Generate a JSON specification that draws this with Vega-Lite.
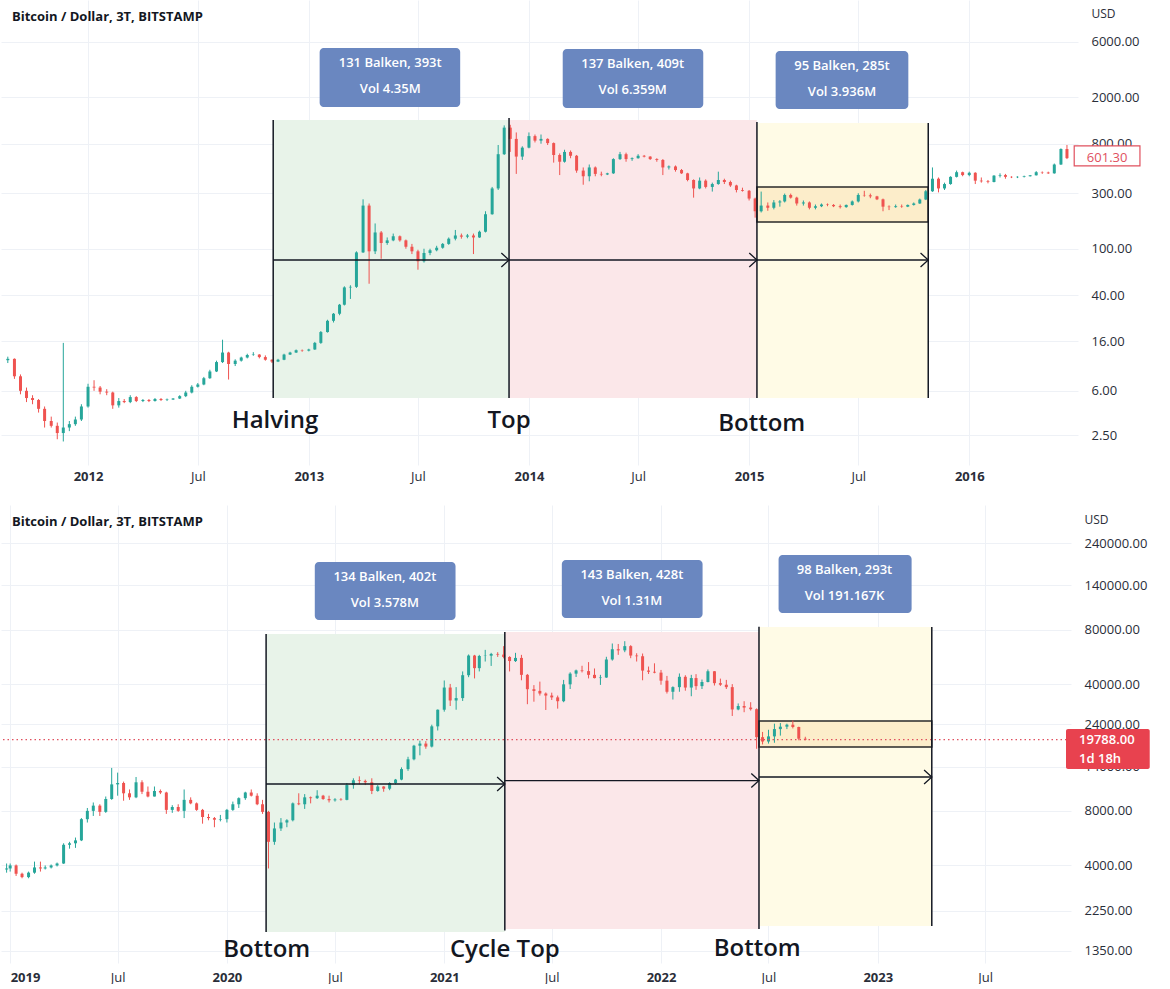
{
  "$schema": "https://vega.github.io/schema/vega-lite/v6.json",
  "background": "white",
  "padding": 0,
  "spacing": 22,
  "config": {
    "view": {"stroke": null},
    "font": "Open Sans",
    "axis": {"labelFont": "Open Sans", "labelFontSize": 13, "labelColor": "#2a2e39", "gridColor": "#eef1f6", "domain": false, "ticks": false},
    "title": {"font": "Open Sans", "fontSize": 13, "fontWeight": "bold", "color": "#131722", "anchor": "start", "frame": "group", "offset": -24, "dx": 11}
  },
  "resolve": {"scale": {"x": "independent", "y": "independent"}},
  "datasets": {
    "top": [
      {"t":"2011-08-21","o":11.0,"h":11.8,"l":10.4,"c":11.3},
      {"t":"2011-09-01","o":11.3,"h":11.4,"l":7.6,"c":8.0},
      {"t":"2011-09-11","o":8.0,"h":8.3,"l":5.6,"c":6.0},
      {"t":"2011-09-21","o":6.0,"h":6.4,"l":4.8,"c":5.2},
      {"t":"2011-10-01","o":5.2,"h":5.5,"l":4.6,"c":5.0},
      {"t":"2011-10-11","o":5.0,"h":5.1,"l":3.9,"c":4.2},
      {"t":"2011-10-21","o":4.2,"h":4.4,"l":2.9,"c":3.3},
      {"t":"2011-11-01","o":3.3,"h":3.6,"l":2.9,"c":3.0},
      {"t":"2011-11-11","o":3.0,"h":3.2,"l":2.3,"c":2.6},
      {"t":"2011-11-21","o":2.6,"h":15.5,"l":2.2,"c":2.9},
      {"t":"2011-12-01","o":2.9,"h":3.3,"l":2.7,"c":3.1},
      {"t":"2011-12-11","o":3.1,"h":3.6,"l":3.0,"c":3.4},
      {"t":"2011-12-21","o":3.4,"h":4.6,"l":3.3,"c":4.4},
      {"t":"2012-01-01","o":4.4,"h":6.9,"l":4.3,"c":6.5},
      {"t":"2012-01-11","o":6.5,"h":7.4,"l":6.0,"c":6.4},
      {"t":"2012-01-21","o":6.4,"h":6.6,"l":5.6,"c":5.9},
      {"t":"2012-02-01","o":5.9,"h":6.2,"l":5.5,"c":5.8},
      {"t":"2012-02-11","o":5.8,"h":5.9,"l":4.2,"c":4.5},
      {"t":"2012-02-21","o":4.5,"h":5.2,"l":4.3,"c":4.9},
      {"t":"2012-03-01","o":4.9,"h":5.1,"l":4.7,"c":4.8},
      {"t":"2012-03-11","o":4.8,"h":5.5,"l":4.7,"c":5.3},
      {"t":"2012-03-21","o":5.3,"h":5.4,"l":4.8,"c":4.9},
      {"t":"2012-04-01","o":4.9,"h":5.1,"l":4.8,"c":5.0},
      {"t":"2012-04-11","o":5.0,"h":5.1,"l":4.8,"c":4.9},
      {"t":"2012-04-21","o":4.9,"h":5.2,"l":4.85,"c":5.1},
      {"t":"2012-05-01","o":5.1,"h":5.2,"l":4.9,"c":5.0},
      {"t":"2012-05-11","o":5.0,"h":5.15,"l":4.9,"c":5.05},
      {"t":"2012-05-21","o":5.05,"h":5.2,"l":5.0,"c":5.15},
      {"t":"2012-06-01","o":5.15,"h":5.5,"l":5.1,"c":5.4},
      {"t":"2012-06-11","o":5.4,"h":6.0,"l":5.3,"c":5.8},
      {"t":"2012-06-21","o":5.8,"h":6.7,"l":5.7,"c":6.5},
      {"t":"2012-07-01","o":6.5,"h":7.0,"l":6.4,"c":6.8},
      {"t":"2012-07-11","o":6.8,"h":7.9,"l":6.7,"c":7.7},
      {"t":"2012-07-21","o":7.7,"h":9.1,"l":7.6,"c":8.8},
      {"t":"2012-08-01","o":8.8,"h":10.9,"l":8.7,"c":10.6},
      {"t":"2012-08-11","o":10.6,"h":16.5,"l":10.4,"c":12.8},
      {"t":"2012-08-21","o":12.8,"h":13.0,"l":7.5,"c":10.2},
      {"t":"2012-09-01","o":10.2,"h":11.2,"l":9.8,"c":10.9},
      {"t":"2012-09-11","o":10.9,"h":11.8,"l":10.7,"c":11.6},
      {"t":"2012-09-21","o":11.6,"h":12.5,"l":11.4,"c":12.2},
      {"t":"2012-10-01","o":12.2,"h":12.9,"l":12.0,"c":12.3},
      {"t":"2012-10-11","o":12.3,"h":12.4,"l":11.4,"c":11.7},
      {"t":"2012-10-21","o":11.7,"h":12.1,"l":10.9,"c":11.1},
      {"t":"2012-11-01","o":11.1,"h":11.2,"l":10.4,"c":10.7},
      {"t":"2012-11-11","o":10.7,"h":11.3,"l":10.6,"c":11.1},
      {"t":"2012-11-21","o":11.1,"h":12.5,"l":11.0,"c":12.3},
      {"t":"2012-12-01","o":12.3,"h":13.0,"l":12.2,"c":12.8},
      {"t":"2012-12-11","o":12.8,"h":13.6,"l":12.7,"c":13.4},
      {"t":"2012-12-21","o":13.4,"h":13.6,"l":13.0,"c":13.3},
      {"t":"2013-01-01","o":13.3,"h":13.8,"l":13.1,"c":13.6},
      {"t":"2013-01-11","o":13.6,"h":15.8,"l":13.5,"c":15.5},
      {"t":"2013-01-21","o":15.5,"h":19.6,"l":15.2,"c":19.2},
      {"t":"2013-02-01","o":19.2,"h":24.5,"l":19.0,"c":24.0},
      {"t":"2013-02-11","o":24.0,"h":28.0,"l":23.2,"c":27.6},
      {"t":"2013-02-21","o":27.6,"h":33.5,"l":26.8,"c":33.0},
      {"t":"2013-03-01","o":33.0,"h":47.5,"l":32.5,"c":46.5},
      {"t":"2013-03-11","o":46.5,"h":48.5,"l":37.0,"c":47.0},
      {"t":"2013-03-21","o":47.0,"h":95,"l":46.0,"c":93},
      {"t":"2013-04-01","o":93,"h":266,"l":92,"c":235},
      {"t":"2013-04-11","o":235,"h":245,"l":50,"c":95},
      {"t":"2013-04-21","o":95,"h":165,"l":90,"c":138},
      {"t":"2013-05-01","o":138,"h":142,"l":82,"c":112},
      {"t":"2013-05-11","o":112,"h":125,"l":108,"c":118},
      {"t":"2013-05-21","o":118,"h":135,"l":116,"c":128},
      {"t":"2013-06-01","o":128,"h":130,"l":115,"c":118},
      {"t":"2013-06-11","o":118,"h":120,"l":100,"c":104},
      {"t":"2013-06-21","o":104,"h":110,"l":90,"c":95},
      {"t":"2013-07-01","o":95,"h":98,"l":66,"c":78},
      {"t":"2013-07-11","o":78,"h":100,"l":76,"c":92},
      {"t":"2013-07-21","o":92,"h":100,"l":88,"c":97},
      {"t":"2013-08-01","o":97,"h":106,"l":95,"c":102},
      {"t":"2013-08-11","o":102,"h":112,"l":100,"c":110},
      {"t":"2013-08-21","o":110,"h":125,"l":108,"c":122},
      {"t":"2013-09-01","o":122,"h":145,"l":118,"c":130},
      {"t":"2013-09-11","o":130,"h":135,"l":122,"c":127},
      {"t":"2013-09-21","o":127,"h":134,"l":123,"c":130},
      {"t":"2013-10-01","o":130,"h":135,"l":90,"c":125},
      {"t":"2013-10-11","o":125,"h":143,"l":124,"c":140},
      {"t":"2013-10-21","o":140,"h":210,"l":138,"c":198},
      {"t":"2013-11-01","o":198,"h":340,"l":196,"c":330},
      {"t":"2013-11-11","o":330,"h":780,"l":320,"c":650},
      {"t":"2013-11-21","o":650,"h":1150,"l":640,"c":1100},
      {"t":"2013-12-01","o":1100,"h":1163,"l":680,"c":880},
      {"t":"2013-12-11","o":880,"h":1000,"l":440,"c":620},
      {"t":"2013-12-21","o":620,"h":760,"l":580,"c":740},
      {"t":"2014-01-01","o":740,"h":1000,"l":730,"c":930},
      {"t":"2014-01-11","o":930,"h":960,"l":820,"c":850},
      {"t":"2014-01-21","o":850,"h":960,"l":800,"c":880},
      {"t":"2014-02-01","o":880,"h":890,"l":780,"c":810},
      {"t":"2014-02-11","o":810,"h":820,"l":550,"c":640},
      {"t":"2014-02-21","o":640,"h":660,"l":430,"c":560},
      {"t":"2014-03-01","o":560,"h":710,"l":550,"c":680},
      {"t":"2014-03-11","o":680,"h":700,"l":600,"c":630},
      {"t":"2014-03-21","o":630,"h":640,"l":450,"c":470},
      {"t":"2014-04-01","o":470,"h":500,"l":355,"c":420},
      {"t":"2014-04-11","o":420,"h":530,"l":380,"c":500},
      {"t":"2014-04-21","o":500,"h":510,"l":420,"c":440},
      {"t":"2014-05-01","o":440,"h":460,"l":420,"c":435},
      {"t":"2014-05-11","o":435,"h":450,"l":430,"c":445},
      {"t":"2014-05-21","o":445,"h":600,"l":440,"c":590},
      {"t":"2014-06-01","o":590,"h":680,"l":580,"c":650},
      {"t":"2014-06-11","o":650,"h":670,"l":560,"c":590},
      {"t":"2014-06-21","o":590,"h":610,"l":570,"c":600},
      {"t":"2014-07-01","o":600,"h":650,"l":595,"c":630},
      {"t":"2014-07-11","o":630,"h":640,"l":610,"c":620},
      {"t":"2014-07-21","o":620,"h":625,"l":580,"c":590},
      {"t":"2014-08-01","o":590,"h":600,"l":560,"c":580},
      {"t":"2014-08-11","o":580,"h":590,"l":430,"c":500},
      {"t":"2014-08-21","o":500,"h":520,"l":480,"c":510},
      {"t":"2014-09-01","o":510,"h":520,"l":460,"c":475},
      {"t":"2014-09-11","o":475,"h":485,"l":440,"c":445},
      {"t":"2014-09-21","o":445,"h":450,"l":380,"c":390},
      {"t":"2014-10-01","o":390,"h":395,"l":275,"c":330},
      {"t":"2014-10-11","o":330,"h":410,"l":325,"c":385},
      {"t":"2014-10-21","o":385,"h":395,"l":330,"c":340},
      {"t":"2014-11-01","o":340,"h":370,"l":310,"c":360},
      {"t":"2014-11-11","o":360,"h":460,"l":355,"c":390},
      {"t":"2014-11-21","o":390,"h":400,"l":360,"c":375},
      {"t":"2014-12-01","o":375,"h":385,"l":340,"c":350},
      {"t":"2014-12-11","o":350,"h":355,"l":305,"c":320},
      {"t":"2014-12-21","o":320,"h":335,"l":310,"c":315},
      {"t":"2015-01-01","o":315,"h":320,"l":260,"c":270},
      {"t":"2015-01-11","o":270,"h":275,"l":185,"c":210},
      {"t":"2015-01-21","o":210,"h":310,"l":205,"c":235},
      {"t":"2015-02-01","o":235,"h":250,"l":212,"c":225},
      {"t":"2015-02-11","o":225,"h":262,"l":218,"c":250},
      {"t":"2015-02-21","o":250,"h":262,"l":230,"c":255},
      {"t":"2015-03-01","o":255,"h":298,"l":250,"c":290},
      {"t":"2015-03-11","o":290,"h":298,"l":270,"c":275},
      {"t":"2015-03-21","o":275,"h":280,"l":235,"c":245},
      {"t":"2015-04-01","o":245,"h":260,"l":235,"c":250},
      {"t":"2015-04-11","o":250,"h":255,"l":218,"c":225},
      {"t":"2015-04-21","o":225,"h":240,"l":218,"c":232},
      {"t":"2015-05-01","o":232,"h":245,"l":228,"c":240},
      {"t":"2015-05-11","o":240,"h":245,"l":232,"c":238},
      {"t":"2015-05-21","o":238,"h":242,"l":228,"c":232},
      {"t":"2015-06-01","o":232,"h":240,"l":222,"c":228},
      {"t":"2015-06-11","o":228,"h":240,"l":225,"c":238},
      {"t":"2015-06-21","o":238,"h":260,"l":235,"c":255},
      {"t":"2015-07-01","o":255,"h":300,"l":250,"c":290},
      {"t":"2015-07-11","o":290,"h":315,"l":280,"c":288},
      {"t":"2015-07-21","o":288,"h":298,"l":272,"c":282},
      {"t":"2015-08-01","o":282,"h":285,"l":262,"c":266},
      {"t":"2015-08-11","o":266,"h":270,"l":210,"c":230},
      {"t":"2015-08-21","o":230,"h":236,"l":215,"c":228},
      {"t":"2015-09-01","o":228,"h":240,"l":225,"c":232},
      {"t":"2015-09-11","o":232,"h":240,"l":225,"c":230},
      {"t":"2015-09-21","o":230,"h":240,"l":228,"c":238},
      {"t":"2015-10-01","o":238,"h":250,"l":235,"c":245},
      {"t":"2015-10-11","o":245,"h":270,"l":243,"c":265},
      {"t":"2015-10-21","o":265,"h":320,"l":262,"c":312},
      {"t":"2015-11-01","o":312,"h":500,"l":308,"c":400},
      {"t":"2015-11-11","o":400,"h":410,"l":305,"c":330},
      {"t":"2015-11-21","o":330,"h":370,"l":320,"c":360},
      {"t":"2015-12-01","o":360,"h":420,"l":355,"c":415},
      {"t":"2015-12-11","o":415,"h":470,"l":410,"c":455},
      {"t":"2015-12-21","o":455,"h":460,"l":420,"c":430},
      {"t":"2016-01-01","o":430,"h":460,"l":420,"c":450},
      {"t":"2016-01-11","o":450,"h":455,"l":360,"c":385},
      {"t":"2016-01-21","o":385,"h":410,"l":370,"c":380},
      {"t":"2016-02-01","o":380,"h":390,"l":365,"c":375},
      {"t":"2016-02-11","o":375,"h":430,"l":372,"c":425},
      {"t":"2016-02-21","o":425,"h":445,"l":410,"c":430},
      {"t":"2016-03-01","o":430,"h":440,"l":400,"c":415},
      {"t":"2016-03-11","o":415,"h":420,"l":405,"c":412},
      {"t":"2016-03-21","o":412,"h":420,"l":405,"c":415},
      {"t":"2016-04-01","o":415,"h":425,"l":410,"c":420},
      {"t":"2016-04-11","o":420,"h":430,"l":418,"c":428},
      {"t":"2016-04-21","o":428,"h":465,"l":426,"c":455},
      {"t":"2016-05-01","o":455,"h":462,"l":440,"c":452},
      {"t":"2016-05-11","o":452,"h":460,"l":440,"c":445},
      {"t":"2016-05-21","o":445,"h":540,"l":442,"c":530},
      {"t":"2016-06-01","o":530,"h":730,"l":525,"c":720},
      {"t":"2016-06-11","o":720,"h":780,"l":590,"c":601.3}
    ],
    "bot": [
      {"t":"2018-12-26","o":3800,"h":4100,"l":3650,"c":3850},
      {"t":"2019-01-01","o":3850,"h":4100,"l":3700,"c":4000},
      {"t":"2019-01-11","o":4000,"h":4050,"l":3500,"c":3600},
      {"t":"2019-01-21","o":3600,"h":3650,"l":3400,"c":3450},
      {"t":"2019-02-01","o":3450,"h":3700,"l":3400,"c":3650},
      {"t":"2019-02-11","o":3650,"h":4200,"l":3600,"c":3900},
      {"t":"2019-02-21","o":3900,"h":4200,"l":3700,"c":3850},
      {"t":"2019-03-01","o":3850,"h":4000,"l":3800,"c":3900},
      {"t":"2019-03-11","o":3900,"h":4050,"l":3850,"c":4000},
      {"t":"2019-03-21","o":4000,"h":4150,"l":3950,"c":4100},
      {"t":"2019-04-01","o":4100,"h":5300,"l":4080,"c":5200},
      {"t":"2019-04-11","o":5200,"h":5400,"l":4950,"c":5300},
      {"t":"2019-04-21","o":5300,"h":5700,"l":5000,"c":5500},
      {"t":"2019-05-01","o":5500,"h":7300,"l":5450,"c":7200},
      {"t":"2019-05-11","o":7200,"h":8300,"l":6900,"c":8000},
      {"t":"2019-05-21","o":8000,"h":8900,"l":7500,"c":8550},
      {"t":"2019-06-01","o":8550,"h":8700,"l":7500,"c":7900},
      {"t":"2019-06-11","o":7900,"h":9600,"l":7800,"c":9300},
      {"t":"2019-06-21","o":9300,"h":13800,"l":9200,"c":11200},
      {"t":"2019-07-01","o":11200,"h":13000,"l":9700,"c":11400},
      {"t":"2019-07-11","o":11400,"h":11600,"l":9100,"c":10000},
      {"t":"2019-07-21","o":10000,"h":10500,"l":9200,"c":9500},
      {"t":"2019-08-01","o":9500,"h":12300,"l":9400,"c":11500},
      {"t":"2019-08-11","o":11500,"h":11800,"l":9900,"c":10200},
      {"t":"2019-08-21","o":10200,"h":10900,"l":9500,"c":9600},
      {"t":"2019-09-01","o":9600,"h":10900,"l":9600,"c":10300},
      {"t":"2019-09-11","o":10300,"h":10500,"l":9900,"c":10100},
      {"t":"2019-09-21","o":10100,"h":10200,"l":7700,"c":8100},
      {"t":"2019-10-01","o":8100,"h":8600,"l":7800,"c":8400},
      {"t":"2019-10-11","o":8400,"h":8700,"l":7900,"c":8000},
      {"t":"2019-10-21","o":8000,"h":10500,"l":7300,"c":9200},
      {"t":"2019-11-01","o":9200,"h":9500,"l":8700,"c":8800},
      {"t":"2019-11-11","o":8800,"h":8900,"l":8000,"c":8100},
      {"t":"2019-11-21","o":8100,"h":8200,"l":6800,"c":7400},
      {"t":"2019-12-01","o":7400,"h":7700,"l":7100,"c":7300},
      {"t":"2019-12-11","o":7300,"h":7400,"l":6500,"c":7150},
      {"t":"2019-12-21","o":7150,"h":7600,"l":7000,"c":7200},
      {"t":"2020-01-01","o":7200,"h":8200,"l":6900,"c":8100},
      {"t":"2020-01-11","o":8100,"h":9000,"l":8000,"c":8700},
      {"t":"2020-01-21","o":8700,"h":9500,"l":8300,"c":9400},
      {"t":"2020-02-01","o":9400,"h":10200,"l":9200,"c":10100},
      {"t":"2020-02-11","o":10100,"h":10500,"l":9600,"c":9700},
      {"t":"2020-02-21","o":9700,"h":10000,"l":8600,"c":8700},
      {"t":"2020-03-01","o":8700,"h":9200,"l":7700,"c":7900},
      {"t":"2020-03-11","o":7900,"h":8000,"l":3850,"c":5400},
      {"t":"2020-03-21","o":5400,"h":6900,"l":5200,"c":6400},
      {"t":"2020-04-01","o":6400,"h":7300,"l":6200,"c":6900},
      {"t":"2020-04-11","o":6900,"h":7200,"l":6500,"c":7100},
      {"t":"2020-04-21","o":7100,"h":8900,"l":7000,"c":8800},
      {"t":"2020-05-01","o":8800,"h":10000,"l":8600,"c":8700},
      {"t":"2020-05-11","o":8700,"h":9900,"l":8200,"c":9500},
      {"t":"2020-05-21","o":9500,"h":9600,"l":8800,"c":9400},
      {"t":"2020-06-01","o":9400,"h":10400,"l":9300,"c":9700},
      {"t":"2020-06-11","o":9700,"h":9800,"l":9200,"c":9300},
      {"t":"2020-06-21","o":9300,"h":9700,"l":8900,"c":9150},
      {"t":"2020-07-01","o":9150,"h":9400,"l":9000,"c":9250},
      {"t":"2020-07-11","o":9250,"h":9400,"l":9100,"c":9200},
      {"t":"2020-07-21","o":9200,"h":11400,"l":9150,"c":11100},
      {"t":"2020-08-01","o":11100,"h":12100,"l":10600,"c":11800},
      {"t":"2020-08-11","o":11800,"h":12400,"l":11200,"c":11700},
      {"t":"2020-08-21","o":11700,"h":11900,"l":11100,"c":11500},
      {"t":"2020-09-01","o":11500,"h":12100,"l":9900,"c":10300},
      {"t":"2020-09-11","o":10300,"h":11100,"l":10200,"c":10900},
      {"t":"2020-09-21","o":10900,"h":10950,"l":10200,"c":10600},
      {"t":"2020-10-01","o":10600,"h":11500,"l":10400,"c":11400},
      {"t":"2020-10-11","o":11400,"h":12000,"l":11200,"c":11900},
      {"t":"2020-10-21","o":11900,"h":13900,"l":11800,"c":13600},
      {"t":"2020-11-01","o":13600,"h":15900,"l":13300,"c":15400},
      {"t":"2020-11-11","o":15400,"h":18500,"l":15200,"c":18300},
      {"t":"2020-11-21","o":18300,"h":19500,"l":16200,"c":18800},
      {"t":"2020-12-01","o":18800,"h":19400,"l":17600,"c":18100},
      {"t":"2020-12-11","o":18100,"h":23900,"l":17900,"c":23400},
      {"t":"2020-12-21","o":23400,"h":29000,"l":22200,"c":28900},
      {"t":"2021-01-01","o":28900,"h":41900,"l":28200,"c":38300},
      {"t":"2021-01-11","o":38300,"h":40100,"l":30300,"c":32500},
      {"t":"2021-01-21","o":32500,"h":38500,"l":28900,"c":33500},
      {"t":"2021-02-01","o":33500,"h":47000,"l":32300,"c":44800},
      {"t":"2021-02-11","o":44800,"h":58300,"l":43700,"c":57500},
      {"t":"2021-02-21","o":57500,"h":58000,"l":43000,"c":49000},
      {"t":"2021-03-01","o":49000,"h":58000,"l":47000,"c":57200},
      {"t":"2021-03-11","o":57200,"h":61800,"l":53300,"c":57400},
      {"t":"2021-03-21","o":57400,"h":59500,"l":50400,"c":58700},
      {"t":"2021-04-01","o":58700,"h":60000,"l":56500,"c":58200},
      {"t":"2021-04-11","o":58200,"h":64800,"l":55500,"c":56500},
      {"t":"2021-04-21","o":56500,"h":57000,"l":47000,"c":53600},
      {"t":"2021-05-01","o":53600,"h":59500,"l":53000,"c":55800},
      {"t":"2021-05-11","o":55800,"h":58000,"l":42000,"c":45000},
      {"t":"2021-05-21","o":45000,"h":45500,"l":31000,"c":37500},
      {"t":"2021-06-01","o":37500,"h":39500,"l":32000,"c":36700},
      {"t":"2021-06-11","o":36700,"h":41300,"l":34600,"c":35500},
      {"t":"2021-06-21","o":35500,"h":36000,"l":28800,"c":34600},
      {"t":"2021-07-01","o":34600,"h":35900,"l":32700,"c":33800},
      {"t":"2021-07-11","o":33800,"h":34600,"l":29300,"c":32200},
      {"t":"2021-07-21","o":32200,"h":42200,"l":31800,"c":39900},
      {"t":"2021-08-01","o":39900,"h":46500,"l":37600,"c":45700},
      {"t":"2021-08-11","o":45700,"h":48100,"l":43800,"c":47600},
      {"t":"2021-08-21","o":47600,"h":50500,"l":46400,"c":47200},
      {"t":"2021-09-01","o":47200,"h":52900,"l":43000,"c":45000},
      {"t":"2021-09-11","o":45000,"h":48800,"l":43000,"c":43200},
      {"t":"2021-09-21","o":43200,"h":45000,"l":39600,"c":43500},
      {"t":"2021-10-01","o":43500,"h":56600,"l":43300,"c":54700},
      {"t":"2021-10-11","o":54700,"h":67000,"l":53900,"c":62300},
      {"t":"2021-10-21","o":62300,"h":66600,"l":58000,"c":61400},
      {"t":"2021-11-01","o":61400,"h":69000,"l":60000,"c":64800},
      {"t":"2021-11-11","o":64800,"h":65600,"l":55600,"c":57500},
      {"t":"2021-11-21","o":57500,"h":59200,"l":53300,"c":57000},
      {"t":"2021-12-01","o":57000,"h":59000,"l":42000,"c":47500},
      {"t":"2021-12-11","o":47500,"h":50000,"l":45500,"c":46800},
      {"t":"2021-12-21","o":46800,"h":52100,"l":45900,"c":46300},
      {"t":"2022-01-01","o":46300,"h":47900,"l":39700,"c":41800},
      {"t":"2022-01-11","o":41800,"h":44400,"l":35500,"c":36300},
      {"t":"2022-01-21","o":36300,"h":38900,"l":32900,"c":38500},
      {"t":"2022-02-01","o":38500,"h":45800,"l":36300,"c":43900},
      {"t":"2022-02-11","o":43900,"h":44800,"l":36800,"c":38300},
      {"t":"2022-02-21","o":38300,"h":45000,"l":34300,"c":43200},
      {"t":"2022-03-01","o":43200,"h":45400,"l":37200,"c":39000},
      {"t":"2022-03-11","o":39000,"h":42400,"l":37600,"c":41100},
      {"t":"2022-03-21","o":41100,"h":48200,"l":40900,"c":47100},
      {"t":"2022-04-01","o":47100,"h":47200,"l":39300,"c":40500},
      {"t":"2022-04-11","o":40500,"h":42900,"l":39100,"c":39700},
      {"t":"2022-04-21","o":39700,"h":42200,"l":37600,"c":38500},
      {"t":"2022-05-01","o":38500,"h":40000,"l":26700,"c":29000},
      {"t":"2022-05-11","o":29000,"h":31300,"l":28700,"c":30300},
      {"t":"2022-05-21","o":30300,"h":32200,"l":28000,"c":29700},
      {"t":"2022-06-01","o":29700,"h":31800,"l":28600,"c":29100},
      {"t":"2022-06-11","o":29100,"h":29400,"l":17600,"c":20400},
      {"t":"2022-06-21","o":20400,"h":21800,"l":18600,"c":19300},
      {"t":"2022-07-01","o":19300,"h":22400,"l":18800,"c":20600},
      {"t":"2022-07-11","o":20600,"h":24200,"l":19000,"c":22600},
      {"t":"2022-07-21","o":22600,"h":24400,"l":20800,"c":23300},
      {"t":"2022-08-01","o":23300,"h":24200,"l":22600,"c":23900},
      {"t":"2022-08-11","o":23900,"h":25200,"l":22800,"c":23200},
      {"t":"2022-08-21","o":23200,"h":23300,"l":19600,"c":20000},
      {"t":"2022-09-01","o":20000,"h":20500,"l":19600,"c":19788}
    ],
    "topZones": [
      {"t1":"2012-11-03","t2":"2013-11-29","p1":5.2,"p2":1280,"z":"up"},
      {"t1":"2013-11-29","t2":"2015-01-14","p1":5.2,"p2":1280,"z":"down"},
      {"t1":"2015-01-14","t2":"2015-10-25","p1":5.2,"p2":1207,"z":"flat"}
    ],
    "botZones": [
      {"t1":"2020-03-07","t2":"2021-04-13","p1":1716,"p2":75500,"z":"up"},
      {"t1":"2021-04-13","t2":"2022-06-15","p1":1783,"p2":77500,"z":"down"},
      {"t1":"2022-06-15","t2":"2023-04-02","p1":1852,"p2":82600,"z":"flat"}
    ],
    "topLines": [
      {"t":"2012-11-03","p1":5.2,"p2":1280},
      {"t":"2013-11-29","p1":5.2,"p2":1330},
      {"t":"2015-01-14","p1":5.2,"p2":1230},
      {"t":"2015-10-25","p1":5.2,"p2":1207}
    ],
    "botLines": [
      {"t":"2020-03-07","p1":1716,"p2":75500},
      {"t":"2021-04-13","p1":1750,"p2":77500},
      {"t":"2022-06-15","p1":1783,"p2":83000},
      {"t":"2023-04-02","p1":1852,"p2":82600}
    ],
    "topArrows": [
      {"t1":"2012-11-03","t2":"2013-11-29","p":80},
      {"t1":"2013-11-29","t2":"2015-01-14","p":80},
      {"t1":"2015-01-14","t2":"2015-10-25","p":80}
    ],
    "botArrows": [
      {"t1":"2020-03-07","t2":"2021-04-13","p":11250},
      {"t1":"2021-04-13","t2":"2022-06-15","p":11750},
      {"t1":"2022-06-15","t2":"2023-04-02","p":12300}
    ],
    "topBox": [{"t1":"2015-01-14","t2":"2015-10-25","p1":170,"p2":340}],
    "botBox": [{"t1":"2022-06-15","t2":"2023-04-02","p1":17980,"p2":25030}],
    "botNow": [{"p":19788}],
    "topInfo": [
      {"t1":"2013-01-19","t2":"2013-09-09","tm":"2013-05-16","p1":1657,"p2":5330,"ya":3960,"yb":2366,"a":"131 Balken, 393t","b":"Vol 4.35M"},
      {"t1":"2014-02-26","t2":"2014-10-17","tm":"2014-06-22","p1":1624,"p2":5220,"ya":3880,"yb":2319,"a":"137 Balken, 409t","b":"Vol 6.359M"},
      {"t1":"2015-02-14","t2":"2015-09-22","tm":"2015-06-04","p1":1591,"p2":5020,"ya":3731,"yb":2229,"a":"95 Balken, 285t","b":"Vol 3.936M"}
    ],
    "botInfo": [
      {"t1":"2020-05-28","t2":"2021-01-20","tm":"2020-09-23","p1":90250,"p2":188500,"ya":155800,"yb":112000,"a":"134 Balken, 402t","b":"Vol 3.578M"},
      {"t1":"2021-07-18","t2":"2022-03-12","tm":"2021-11-13","p1":92560,"p2":193400,"ya":159800,"yb":114900,"a":"143 Balken, 428t","b":"Vol 1.31M"},
      {"t1":"2022-07-18","t2":"2023-02-27","tm":"2022-11-06","p1":98700,"p2":206000,"ya":170300,"yb":122400,"a":"98 Balken, 293t","b":"Vol 191.167K"}
    ],
    "topLabels": [
      {"t":"2012-11-06","p":2.88,"label":"Halving"},
      {"t":"2013-11-29","p":2.88,"label":"Top"},
      {"t":"2015-01-22","p":2.71,"label":"Bottom"}
    ],
    "botLabels": [
      {"t":"2020-03-08","p":1250,"label":"Bottom"},
      {"t":"2021-04-13","p":1250,"label":"Cycle Top"},
      {"t":"2022-06-12","p":1265,"label":"Bottom"}
    ],
    "topPrice": [{"t1":"2016-06-23","t2":"2016-10-10","p1":515,"p2":765,"tx":"2016-07-14","p":601.3,"val":"601.30"}],
    "botPrice": [{"t1":"2023-11-14","t2":"2024-04-03","p1":13600,"p2":22590,"tx":"2023-12-06","p":19788,"val":"19788.00","q":15440,"sub":"1d 18h"}]
  },
  "vconcat": [
    {
      "title": "Bitcoin / Dollar, 3T, BITSTAMP",
      "width": 1077,
      "height": 465,
      "layer": [
        {
          "data": {"name": "topZones"},
          "mark": {"type": "rect"},
          "encoding": {
            "x": {
              "field": "t1", "type": "temporal",
              "scale": {"type": "utc", "nice": false, "domain": [{"year": 2011, "month": 8, "date": 18, "utc": true}, {"year": 2016, "month": 6, "date": 21, "utc": true}]},
              "axis": {
                "title": null, "labelPadding": 5, "labelFlush": false, "labelOverlap": false, "labelBound": false,
                "values": [
                  {"year": 2012, "month": 1, "date": 1, "utc": true}, {"year": 2012, "month": 7, "date": 1, "utc": true},
                  {"year": 2013, "month": 1, "date": 1, "utc": true}, {"year": 2013, "month": 7, "date": 1, "utc": true},
                  {"year": 2014, "month": 1, "date": 1, "utc": true}, {"year": 2014, "month": 7, "date": 1, "utc": true},
                  {"year": 2015, "month": 1, "date": 1, "utc": true}, {"year": 2015, "month": 7, "date": 1, "utc": true},
                  {"year": 2016, "month": 1, "date": 1, "utc": true}
                ],
                "labelExpr": "utcmonth(datum.value) == 0 ? utcFormat(datum.value, '%Y') : 'Jul'",
                "labelFontWeight": {"condition": {"test": "utcmonth(datum.value) == 0", "value": "bold"}, "value": "normal"}
              }
            },
            "x2": {"field": "t2"},
            "y": {
              "field": "p1", "type": "quantitative",
              "scale": {"type": "log", "domain": [1.381, 13770], "nice": false, "zero": false},
              "axis": {
                "orient": "right", "values": [2.5, 6, 16, 40, 100, 300, 800, 2000, 6000], "format": ".2f",
                "labelPadding": 13, "title": "USD", "titleAngle": 0, "titleAlign": "left", "titleBaseline": "middle",
                "titleX": 13, "titleY": 13, "titleFontSize": 12, "titleFontWeight": "normal", "titleColor": "#2a2e39", "titleFont": "Open Sans"
              }
            },
            "y2": {"field": "p2"},
            "color": {"field": "z", "type": "nominal", "scale": {"domain": ["up", "down", "flat"], "range": ["#e8f3e9", "#fbe7e9", "#fffbe6"]}, "legend": null}
          }
        },
        {
          "data": {"name": "topBox"},
          "mark": {"type": "rect", "fill": "#fcedca", "stroke": "#2a2a2a", "strokeWidth": 1.5},
          "encoding": {
            "x": {"field": "t1", "type": "temporal", "scale": {"type": "utc"}},
            "x2": {"field": "t2"},
            "y": {"field": "p1", "type": "quantitative", "scale": {"type": "log"}},
            "y2": {"field": "p2"}
          }
        },
        {
          "data": {"name": "top"},
          "mark": {"type": "rule", "clip": true, "strokeWidth": 1},
          "encoding": {
            "x": {"field": "t", "type": "temporal", "scale": {"type": "utc"}},
            "y": {"field": "l", "type": "quantitative", "scale": {"type": "log"}},
            "y2": {"field": "h"},
            "color": {"condition": {"test": "datum.c >= datum.o", "value": "#26a69a"}, "value": "#ef5350"}
          }
        },
        {
          "data": {"name": "top"},
          "mark": {"type": "bar", "clip": true, "size": 3},
          "encoding": {
            "x": {"field": "t", "type": "temporal", "scale": {"type": "utc"}},
            "y": {"field": "o", "type": "quantitative", "scale": {"type": "log"}},
            "y2": {"field": "c"},
            "color": {"condition": {"test": "datum.c >= datum.o", "value": "#26a69a"}, "value": "#ef5350"}
          }
        },
        {
          "data": {"name": "topLines"},
          "mark": {"type": "rule", "color": "#131722", "strokeWidth": 1.5},
          "encoding": {
            "x": {"field": "t", "type": "temporal", "scale": {"type": "utc"}},
            "y": {"field": "p1", "type": "quantitative", "scale": {"type": "log"}},
            "y2": {"field": "p2"}
          }
        },
        {
          "data": {"name": "topArrows"},
          "mark": {"type": "rule", "color": "#131722", "strokeWidth": 1.3},
          "encoding": {
            "x": {"field": "t1", "type": "temporal", "scale": {"type": "utc"}},
            "x2": {"field": "t2"},
            "y": {"field": "p", "type": "quantitative", "scale": {"type": "log"}}
          }
        },
        {
          "data": {"name": "topArrows"},
          "mark": {"type": "point", "shape": "M-1.1,-1L0,0L-1.1,1", "filled": false, "size": 196, "color": "#131722", "strokeWidth": 1.3, "opacity": 1},
          "encoding": {
            "x": {"field": "t2", "type": "temporal", "scale": {"type": "utc"}},
            "y": {"field": "p", "type": "quantitative", "scale": {"type": "log"}}
          }
        },
        {
          "data": {"name": "topInfo"},
          "mark": {"type": "rect", "fill": "#6a87c0", "cornerRadius": 4},
          "encoding": {
            "x": {"field": "t1", "type": "temporal", "scale": {"type": "utc"}},
            "x2": {"field": "t2"},
            "y": {"field": "p1", "type": "quantitative", "scale": {"type": "log"}},
            "y2": {"field": "p2"}
          }
        },
        {
          "data": {"name": "topInfo"},
          "mark": {"type": "text", "color": "white", "fontSize": 13, "fontWeight": 600, "align": "center", "baseline": "middle"},
          "encoding": {
            "x": {"field": "tm", "type": "temporal", "scale": {"type": "utc"}},
            "y": {"field": "ya", "type": "quantitative", "scale": {"type": "log"}},
            "text": {"field": "a"}
          }
        },
        {
          "data": {"name": "topInfo"},
          "mark": {"type": "text", "color": "white", "fontSize": 13, "fontWeight": 600, "align": "center", "baseline": "middle"},
          "encoding": {
            "x": {"field": "tm", "type": "temporal", "scale": {"type": "utc"}},
            "y": {"field": "yb", "type": "quantitative", "scale": {"type": "log"}},
            "text": {"field": "b"}
          }
        },
        {
          "data": {"name": "topLabels"},
          "mark": {"type": "text", "color": "#131722", "fontSize": 24, "fontWeight": 600, "align": "center", "baseline": "alphabetic"},
          "encoding": {
            "x": {"field": "t", "type": "temporal", "scale": {"type": "utc"}},
            "y": {"field": "p", "type": "quantitative", "scale": {"type": "log"}},
            "text": {"field": "label"}
          }
        },
        {
          "data": {"name": "topPrice"},
          "mark": {"type": "rect", "fill": "white", "stroke": "#e0505e", "strokeWidth": 1.2},
          "encoding": {
            "x": {"field": "t1", "type": "temporal", "scale": {"type": "utc"}},
            "x2": {"field": "t2"},
            "y": {"field": "p1", "type": "quantitative", "scale": {"type": "log"}},
            "y2": {"field": "p2"}
          }
        },
        {
          "data": {"name": "topPrice"},
          "mark": {"type": "text", "color": "#e0505e", "fontSize": 13, "align": "left", "baseline": "middle"},
          "encoding": {
            "x": {"field": "tx", "type": "temporal", "scale": {"type": "utc"}},
            "y": {"field": "p", "type": "quantitative", "scale": {"type": "log"}},
            "text": {"field": "val"}
          }
        }
      ]
    },
    {
      "title": "Bitcoin / Dollar, 3T, BITSTAMP",
      "width": 1070,
      "height": 458,
      "layer": [
        {
          "data": {"name": "botZones"},
          "mark": {"type": "rect"},
          "encoding": {
            "x": {
              "field": "t1", "type": "temporal",
              "scale": {"type": "utc", "nice": false, "domain": [{"year": 2018, "month": 12, "date": 25, "utc": true}, {"year": 2023, "month": 11, "date": 14, "utc": true}]},
              "axis": {
                "title": null, "labelPadding": 8, "labelFlush": 12, "labelOverlap": false, "labelBound": false,
                "values": [
                  {"year": 2019, "month": 1, "date": 1, "utc": true}, {"year": 2019, "month": 7, "date": 1, "utc": true},
                  {"year": 2020, "month": 1, "date": 1, "utc": true}, {"year": 2020, "month": 7, "date": 1, "utc": true},
                  {"year": 2021, "month": 1, "date": 1, "utc": true}, {"year": 2021, "month": 7, "date": 1, "utc": true},
                  {"year": 2022, "month": 1, "date": 1, "utc": true}, {"year": 2022, "month": 7, "date": 1, "utc": true},
                  {"year": 2023, "month": 1, "date": 1, "utc": true}, {"year": 2023, "month": 7, "date": 1, "utc": true}
                ],
                "labelExpr": "utcmonth(datum.value) == 0 ? utcFormat(datum.value, '%Y') : 'Jul'",
                "labelFontWeight": {"condition": {"test": "utcmonth(datum.value) == 0", "value": "bold"}, "value": "normal"}
              }
            },
            "x2": {"field": "t2"},
            "y": {
              "field": "p1", "type": "quantitative",
              "scale": {"type": "log", "domain": [1159, 389000], "nice": false, "zero": false},
              "axis": {
                "orient": "right", "values": [1350, 2250, 4000, 8000, 14000, 24000, 40000, 80000, 140000, 240000], "format": ".2f",
                "labelPadding": 13, "title": "USD", "titleAngle": 0, "titleAlign": "left", "titleBaseline": "middle",
                "titleX": 13, "titleY": 14, "titleFontSize": 12, "titleFontWeight": "normal", "titleColor": "#2a2e39", "titleFont": "Open Sans"
              }
            },
            "y2": {"field": "p2"},
            "color": {"field": "z", "type": "nominal", "scale": {"domain": ["up", "down", "flat"], "range": ["#e8f3e9", "#fbe7e9", "#fffbe6"]}, "legend": null}
          }
        },
        {
          "data": {"name": "botBox"},
          "mark": {"type": "rect", "fill": "#fcedca", "stroke": "#2a2a2a", "strokeWidth": 1.5},
          "encoding": {
            "x": {"field": "t1", "type": "temporal", "scale": {"type": "utc"}},
            "x2": {"field": "t2"},
            "y": {"field": "p1", "type": "quantitative", "scale": {"type": "log"}},
            "y2": {"field": "p2"}
          }
        },
        {
          "data": {"name": "bot"},
          "mark": {"type": "rule", "clip": true, "strokeWidth": 1},
          "encoding": {
            "x": {"field": "t", "type": "temporal", "scale": {"type": "utc"}},
            "y": {"field": "l", "type": "quantitative", "scale": {"type": "log"}},
            "y2": {"field": "h"},
            "color": {"condition": {"test": "datum.c >= datum.o", "value": "#26a69a"}, "value": "#ef5350"}
          }
        },
        {
          "data": {"name": "bot"},
          "mark": {"type": "bar", "clip": true, "size": 3},
          "encoding": {
            "x": {"field": "t", "type": "temporal", "scale": {"type": "utc"}},
            "y": {"field": "o", "type": "quantitative", "scale": {"type": "log"}},
            "y2": {"field": "c"},
            "color": {"condition": {"test": "datum.c >= datum.o", "value": "#26a69a"}, "value": "#ef5350"}
          }
        },
        {
          "data": {"name": "botNow"},
          "mark": {"type": "rule", "color": "#e0505e", "strokeDash": [1.5, 3], "strokeWidth": 1.2},
          "encoding": {
            "y": {"field": "p", "type": "quantitative", "scale": {"type": "log"}}
          }
        },
        {
          "data": {"name": "botLines"},
          "mark": {"type": "rule", "color": "#131722", "strokeWidth": 1.5},
          "encoding": {
            "x": {"field": "t", "type": "temporal", "scale": {"type": "utc"}},
            "y": {"field": "p1", "type": "quantitative", "scale": {"type": "log"}},
            "y2": {"field": "p2"}
          }
        },
        {
          "data": {"name": "botArrows"},
          "mark": {"type": "rule", "color": "#131722", "strokeWidth": 1.3},
          "encoding": {
            "x": {"field": "t1", "type": "temporal", "scale": {"type": "utc"}},
            "x2": {"field": "t2"},
            "y": {"field": "p", "type": "quantitative", "scale": {"type": "log"}}
          }
        },
        {
          "data": {"name": "botArrows"},
          "mark": {"type": "point", "shape": "M-1.1,-1L0,0L-1.1,1", "filled": false, "size": 196, "color": "#131722", "strokeWidth": 1.3, "opacity": 1},
          "encoding": {
            "x": {"field": "t2", "type": "temporal", "scale": {"type": "utc"}},
            "y": {"field": "p", "type": "quantitative", "scale": {"type": "log"}}
          }
        },
        {
          "data": {"name": "botInfo"},
          "mark": {"type": "rect", "fill": "#6a87c0", "cornerRadius": 4},
          "encoding": {
            "x": {"field": "t1", "type": "temporal", "scale": {"type": "utc"}},
            "x2": {"field": "t2"},
            "y": {"field": "p1", "type": "quantitative", "scale": {"type": "log"}},
            "y2": {"field": "p2"}
          }
        },
        {
          "data": {"name": "botInfo"},
          "mark": {"type": "text", "color": "white", "fontSize": 13, "fontWeight": 600, "align": "center", "baseline": "middle"},
          "encoding": {
            "x": {"field": "tm", "type": "temporal", "scale": {"type": "utc"}},
            "y": {"field": "ya", "type": "quantitative", "scale": {"type": "log"}},
            "text": {"field": "a"}
          }
        },
        {
          "data": {"name": "botInfo"},
          "mark": {"type": "text", "color": "white", "fontSize": 13, "fontWeight": 600, "align": "center", "baseline": "middle"},
          "encoding": {
            "x": {"field": "tm", "type": "temporal", "scale": {"type": "utc"}},
            "y": {"field": "yb", "type": "quantitative", "scale": {"type": "log"}},
            "text": {"field": "b"}
          }
        },
        {
          "data": {"name": "botLabels"},
          "mark": {"type": "text", "color": "#131722", "fontSize": 24, "fontWeight": 600, "align": "center", "baseline": "alphabetic"},
          "encoding": {
            "x": {"field": "t", "type": "temporal", "scale": {"type": "utc"}},
            "y": {"field": "p", "type": "quantitative", "scale": {"type": "log"}},
            "text": {"field": "label"}
          }
        },
        {
          "data": {"name": "botPrice"},
          "mark": {"type": "rect", "fill": "#e8424f", "cornerRadius": 2},
          "encoding": {
            "x": {"field": "t1", "type": "temporal", "scale": {"type": "utc"}},
            "x2": {"field": "t2"},
            "y": {"field": "p1", "type": "quantitative", "scale": {"type": "log"}},
            "y2": {"field": "p2"}
          }
        },
        {
          "data": {"name": "botPrice"},
          "mark": {"type": "text", "color": "white", "fontSize": 13, "fontWeight": 600, "align": "left", "baseline": "middle"},
          "encoding": {
            "x": {"field": "tx", "type": "temporal", "scale": {"type": "utc"}},
            "y": {"field": "p", "type": "quantitative", "scale": {"type": "log"}},
            "text": {"field": "val"}
          }
        },
        {
          "data": {"name": "botPrice"},
          "mark": {"type": "text", "color": "white", "fontSize": 13, "fontWeight": 600, "align": "left", "baseline": "middle"},
          "encoding": {
            "x": {"field": "tx", "type": "temporal", "scale": {"type": "utc"}},
            "y": {"field": "q", "type": "quantitative", "scale": {"type": "log"}},
            "text": {"field": "sub"}
          }
        }
      ]
    }
  ]
}
